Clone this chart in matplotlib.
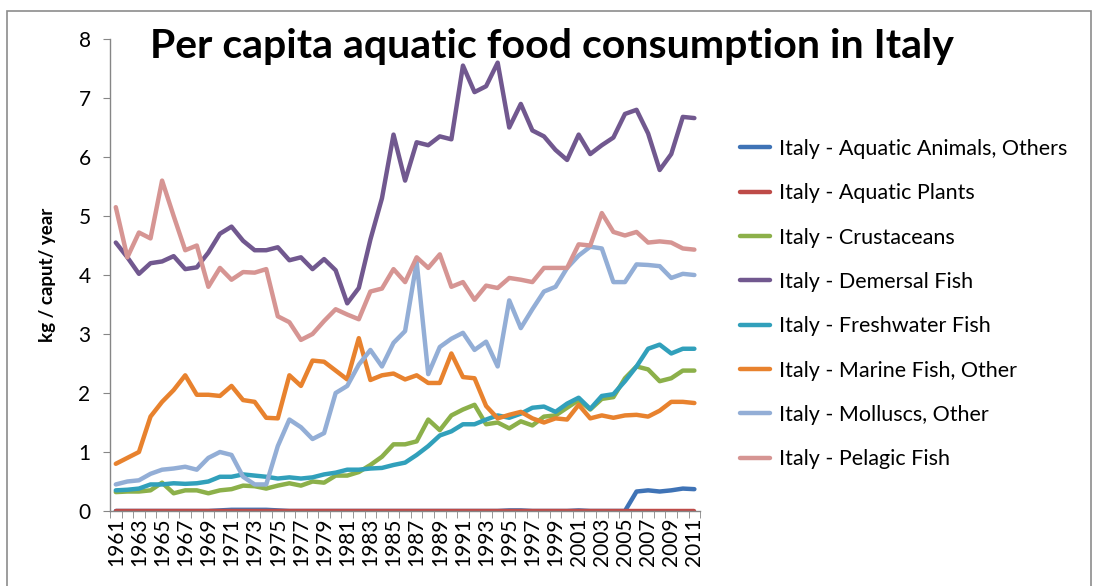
import matplotlib
matplotlib.use("Agg")
import matplotlib.pyplot as plt
from matplotlib.patches import Rectangle
import numpy as np

plt.rcParams['font.family'] = ['Lato', 'DejaVu Sans']

years = list(range(1961, 2012))

aquatic_animals = [0, 0, 0, 0, 0, 0, 0, 0, 0, 0.01, 0.02, 0.02, 0.02, 0.02, 0.01, 0, 0, 0, 0, 0, 0,
                   0, 0, 0, 0, 0, 0, 0, 0, 0, 0, 0, 0, 0, 0.01, 0.01, 0, 0, 0, 0, 0.01,
                   0, 0, 0, 0, 0.33, 0.35, 0.33, 0.35, 0.38, 0.37]
aquatic_plants = [0] * 51
crustaceans = [0.32, 0.33, 0.33, 0.35, 0.48, 0.30, 0.35, 0.35, 0.30, 0.35, 0.37, 0.43, 0.42, 0.38, 0.43,
               0.47, 0.43, 0.50, 0.48, 0.60, 0.60, 0.66, 0.78, 0.92, 1.13, 1.13, 1.18, 1.55, 1.37, 1.62,
               1.72, 1.80, 1.47, 1.50, 1.40, 1.52, 1.45, 1.60, 1.62, 1.75, 1.88, 1.72, 1.90, 1.93, 2.25,
               2.45, 2.40, 2.20, 2.25, 2.38, 2.38]
demersal = [4.55, 4.30, 4.02, 4.20, 4.23, 4.32, 4.10, 4.13, 4.38, 4.70, 4.82, 4.58, 4.42, 4.42, 4.47,
            4.25, 4.30, 4.10, 4.27, 4.08, 3.52, 3.78, 4.60, 5.30, 6.38, 5.60, 6.25, 6.20, 6.35, 6.30,
            7.55, 7.10, 7.20, 7.60, 6.50, 6.90, 6.45, 6.35, 6.12, 5.95, 6.38, 6.05, 6.20, 6.33, 6.73,
            6.80, 6.40, 5.78, 6.05, 6.68, 6.66]
freshwater = [0.35, 0.36, 0.38, 0.45, 0.45, 0.47, 0.46, 0.47, 0.50, 0.58, 0.58, 0.62, 0.60, 0.58, 0.55,
              0.57, 0.55, 0.57, 0.62, 0.65, 0.70, 0.70, 0.72, 0.73, 0.78, 0.82, 0.95, 1.10, 1.28, 1.35,
              1.47, 1.47, 1.55, 1.62, 1.58, 1.65, 1.75, 1.77, 1.68, 1.82, 1.92, 1.73, 1.95, 1.98, 2.20,
              2.45, 2.75, 2.82, 2.67, 2.75, 2.75]
marine_other = [0.80, 0.90, 1.00, 1.60, 1.85, 2.05, 2.30, 1.97, 1.97, 1.95, 2.12, 1.88, 1.85, 1.58, 1.57,
                2.30, 2.12, 2.55, 2.53, 2.38, 2.23, 2.93, 2.22, 2.30, 2.33, 2.23, 2.30, 2.17, 2.17, 2.67,
                2.27, 2.25, 1.78, 1.57, 1.63, 1.68, 1.57, 1.50, 1.57, 1.55, 1.80, 1.57, 1.62, 1.58, 1.62,
                1.63, 1.60, 1.70, 1.85, 1.85, 1.83]
molluscs = [0.45, 0.50, 0.52, 0.63, 0.70, 0.72, 0.75, 0.70, 0.90, 1.00, 0.95, 0.58, 0.45, 0.45, 1.10,
            1.55, 1.42, 1.22, 1.32, 2.00, 2.12, 2.48, 2.73, 2.45, 2.85, 3.05, 4.22, 2.32, 2.78, 2.92,
            3.02, 2.73, 2.87, 2.45, 3.57, 3.10, 3.42, 3.72, 3.80, 4.12, 4.33, 4.48, 4.45, 3.88, 3.88,
            4.18, 4.17, 4.15, 3.95, 4.02, 4.00]
pelagic = [5.15, 4.30, 4.72, 4.62, 5.60, 5.00, 4.42, 4.50, 3.80, 4.12, 3.92, 4.05, 4.04, 4.10, 3.30,
           3.20, 2.90, 3.00, 3.22, 3.42, 3.33, 3.25, 3.72, 3.77, 4.10, 3.88, 4.30, 4.12, 4.35, 3.80,
           3.88, 3.58, 3.82, 3.78, 3.95, 3.92, 3.88, 4.12, 4.12, 4.12, 4.52, 4.50, 5.05, 4.73, 4.67,
           4.73, 4.55, 4.57, 4.55, 4.45, 4.43]

series_names = ["Italy - Aquatic Animals, Others", "Italy - Aquatic Plants", "Italy - Crustaceans",
                "Italy - Demersal Fish", "Italy - Freshwater Fish", "Italy - Marine Fish, Other",
                "Italy - Molluscs, Other", "Italy - Pelagic Fish"]
series_values = [aquatic_animals, aquatic_plants, crustaceans, demersal, freshwater,
                 marine_other, molluscs, pelagic]
colors = ["#3F73B6", "#BE4B48", "#8CB04A", "#71588F", "#31A0BB", "#E8822E", "#93AED6", "#D69593"]

fig = plt.figure(figsize=(10.99, 5.86), dpi=100)
ax = fig.add_axes([0.1001, 0.128, 0.537, 0.8054])

x = np.arange(len(years))
handles = []
for name, vals, c in zip(series_names, series_values, colors):
    h, = ax.plot(x, vals, color=c, lw=3.2, solid_joinstyle='round', solid_capstyle='round', label=name)
    handles.append(h)

ax.set_xlim(-0.5, len(years) - 0.5)
ax.set_ylim(0, 8)
ax.set_yticks(range(0, 9))
ax.set_yticklabels([str(v) for v in range(0, 9)], fontsize=15)
ax.set_xticks(x[::2])
ax.set_xticklabels([str(y) for y in years[::2]], rotation=90, fontsize=15)
ax.set_xticks(np.arange(-0.5, len(years), 1), minor=True)
ax.tick_params(axis='x', which='major', length=0, pad=5)
ax.tick_params(axis='x', which='minor', length=5, color='#868686', direction='out')
ax.tick_params(axis='y', length=5, color='#868686', direction='out', pad=9)

for s in ['top', 'right']:
    ax.spines[s].set_visible(False)
for s in ['left', 'bottom']:
    ax.spines[s].set_color('#868686')
    ax.spines[s].set_linewidth(1.0)

ax.set_ylabel("kg / caput/ year", fontsize=13.5, fontweight='bold', labelpad=16)

fig.text(0.502, 0.92, "Per capita aquatic food consumption in Italy", ha='center', va='center',
         fontsize=29.5, fontweight='bold')

leg = fig.legend(handles=handles, loc='center left', bbox_to_anchor=(0.656, 0.481), frameon=False,
                 fontsize=15.5, handlelength=1.4, labelspacing=1.13, handletextpad=0.4)

fig.patches.append(Rectangle((7 / 1099, -0.01), (1091 - 7) / 1099, 1 - 11 / 586 + 0.01,
                             transform=fig.transFigure, fill=False, edgecolor='#8C8C8C', lw=1.2))

fig.savefig("out.png", dpi=100)
